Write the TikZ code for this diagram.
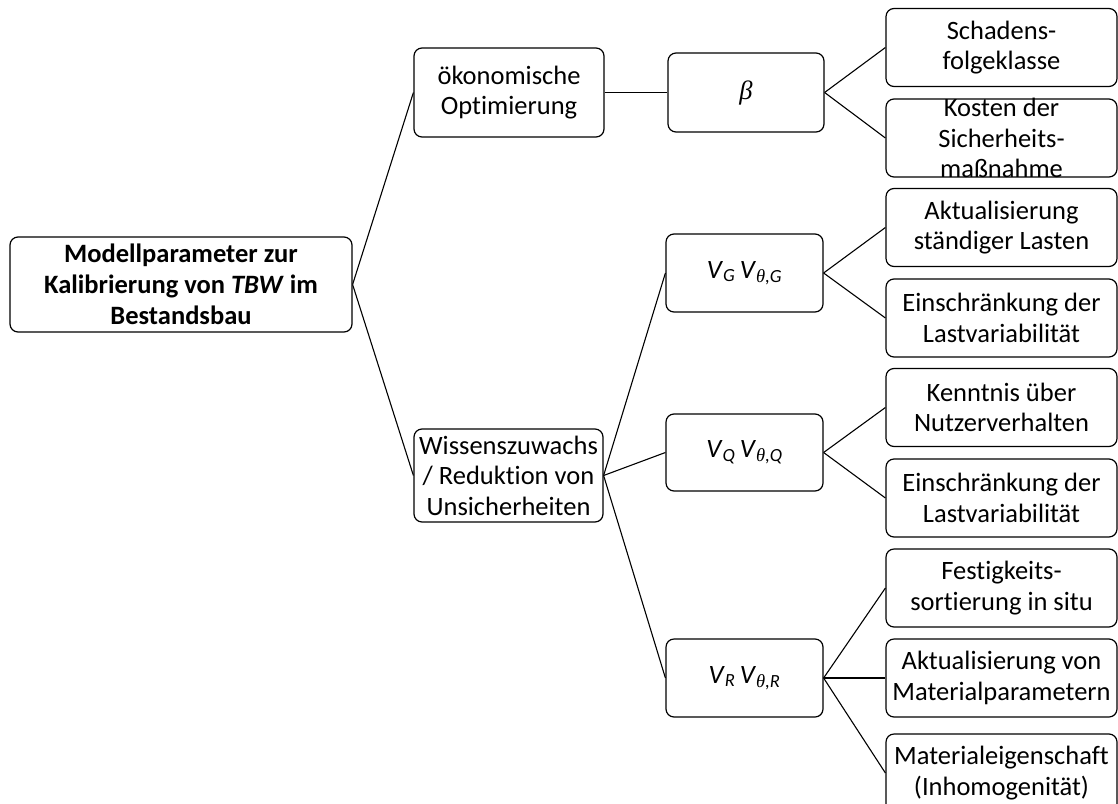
\documentclass[tikz,border=0pt]{standalone}
\usepackage{fontspec}
\setmainfont{Carlito}[Ligatures=NoCommon]
\newfontfamily\grkserif{Liberation Serif}
\begin{document}
\begin{tikzpicture}[x=1pt,y=-1pt,
  box/.style={draw=black, line width=1.2pt, rounded corners=8pt, inner sep=0pt},
  txt/.style={align=center, inner sep=0pt, font=\fontsize{26.5}{30.5}\selectfont},
  conn/.style={draw=black, line width=1.1pt}]
\useasboundingbox (0,0) rectangle (1118,803);
% boxes
\node[box, minimum width=342pt, minimum height=95pt] (root) at (181,284.5) {};
\node[box, minimum width=190pt, minimum height=89pt] (oek) at (509,92.5) {};
\node[box, minimum width=156pt, minimum height=79pt] (beta) at (746,92.5) {};
\node[box, minimum width=189pt, minimum height=93pt] (wiss) at (508.5,475.5) {};
\node[box, minimum width=157pt, minimum height=78pt] (vg) at (744.5,273) {};
\node[box, minimum width=157pt, minimum height=77pt] (vq) at (744.5,452.5) {};
\node[box, minimum width=157pt, minimum height=78pt] (vr) at (744.5,678) {};
\foreach \n/\y in {r1/47.5, r2/138, r3/227.5, r4/318, r5/407.5, r6/498, r7/588, r8/678, r9/773}
  \node[box, minimum width=231pt, minimum height=78pt] (\n) at (1001.5,\y) {};
% texts
\node[txt, font=\fontsize{26.5}{31}\selectfont\bfseries] (root-t) at (root) {Modellparameter zur\\Kalibrierung von \textit{TBW} im\\Bestandsbau};
\node[txt] (oek-t) at (oek) {ökonomische\\Optimierung};
\node[txt] (beta-t) at (beta) {{\grkserif\itshape β}};
\node[txt] (wiss-t) at (wiss) {Wissenszuwachs\\/ Reduktion von\\Unsicherheiten};
\node[txt] (vg-t) at (vg) {\textit{V}\textsubscript{\textit{G}}\,\textit{V}\textsubscript{{\grkserif\itshape θ}\textit{,G}}};
\node[txt] (vq-t) at (vq) {\textit{V}\textsubscript{\textit{Q}}\,\textit{V}\textsubscript{{\grkserif\itshape θ}\textit{,Q}}};
\node[txt] (vr-t) at (vr) {\textit{V}\textsubscript{\textit{R}}\,\textit{V}\textsubscript{{\grkserif\itshape θ}\textit{,R}}};
\node[txt] (r1-t) at (r1) {Schadens-\\folgeklasse};
\node[txt] (r2-t) at (r2) {Kosten der\\Sicherheits-\\maßnahme};
\node[txt] (r3-t) at (r3) {Aktualisierung\\ständiger Lasten};
\node[txt] (r4-t) at (r4) {Einschränkung der\\Lastvariabilität};
\node[txt] (r5-t) at (r5) {Kenntnis über\\Nutzerverhalten};
\node[txt] (r6-t) at (r6) {Einschränkung der\\Lastvariabilität};
\node[txt] (r7-t) at (r7) {Festigkeits-\\sortierung in situ};
\node[txt] (r8-t) at (r8) {Aktualisierung von\\Materialparametern};
\node[txt] (r9-t) at (r9) {Materialeigenschaft\\(Inhomogenität)};
% connectors
\draw[conn] (root.east) -- (oek.west);
\draw[conn] (root.east) -- (wiss.west);
\draw[conn] (oek.east) -- (beta.west);
\draw[conn] (beta.east) -- (r1.west);
\draw[conn] (beta.east) -- (r2.west);
\draw[conn] (wiss.east) -- (vg.west);
\draw[conn] (wiss.east) -- (vq.west);
\draw[conn] (wiss.east) -- (vr.west);
\draw[conn] (vg.east) -- (r3.west);
\draw[conn] (vg.east) -- (r4.west);
\draw[conn] (vq.east) -- (r5.west);
\draw[conn] (vq.east) -- (r6.west);
\draw[conn] (vr.east) -- (r7.west);
\draw[conn] (vr.east) -- (r8.west);
\draw[conn] (vr.east) -- (r9.west);
\end{tikzpicture}
\end{document}
